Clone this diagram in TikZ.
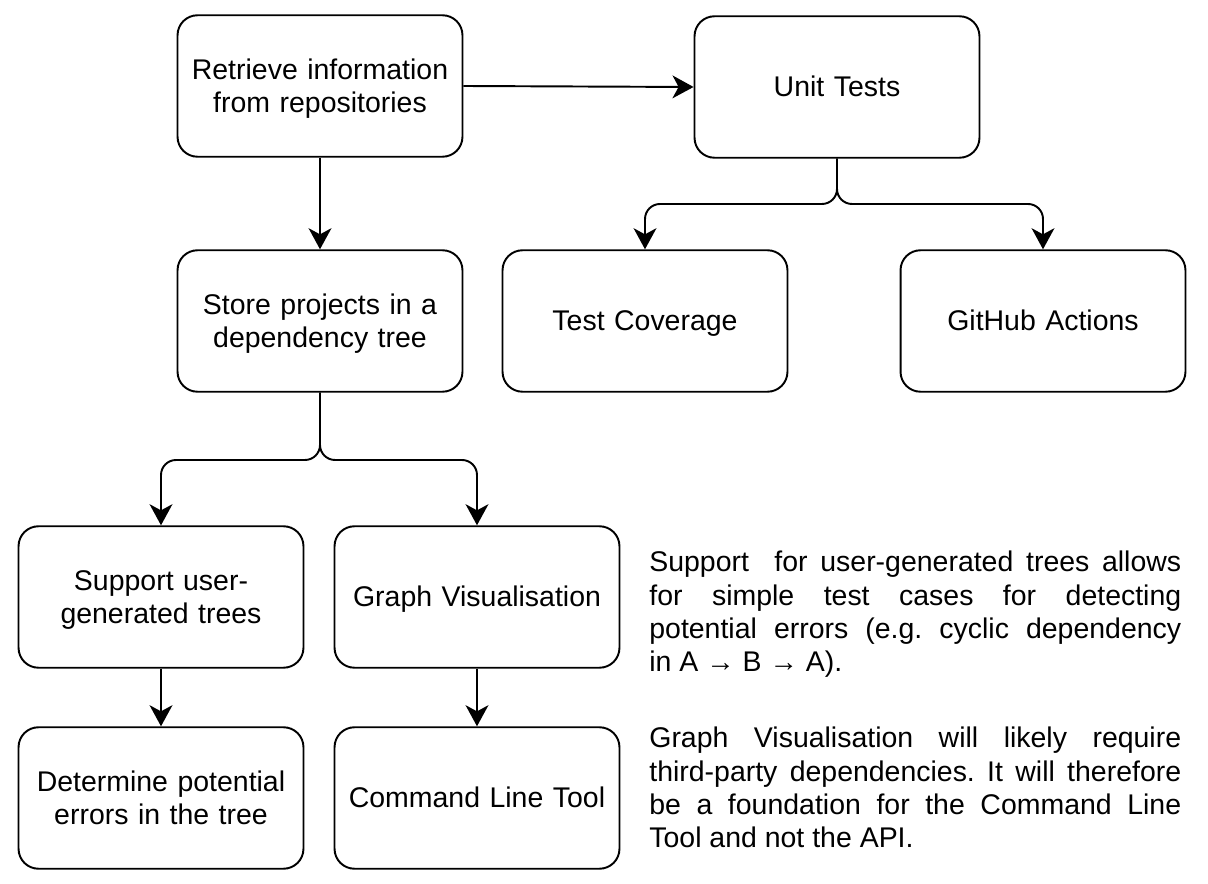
\documentclass[tikz,border=0pt]{standalone}
\usepackage{fontspec}
\setmainfont{Liberation Sans}
\frenchspacing
\usetikzlibrary{arrows.meta}

\begin{document}
\begin{tikzpicture}[x=0.02cm,y=-0.02cm,
  box/.style={draw, line width=1.1pt, rounded corners=0.4cm, minimum width=5.70cm, minimum height=2.83cm, text width=5.5cm, align=center, inner sep=0pt, font=\fontsize{16.2}{18.8}\selectfont,
    execute at begin node={\rule{0pt}{0.9em}}, execute at end node={\rule[-0.2em]{0pt}{0.2em}}},
  link/.style={line width=1.1pt, -{Stealth[length=12pt,width=13pt,inset=3.5pt]}, rounded corners=0.3cm},
  note/.style={anchor=north west, inner sep=0pt, text width=10.64cm, align=justify, font=\fontsize{16.2}{18.9}\selectfont}]
\useasboundingbox (0,0) rectangle (1208,884);

\node[box] (ret) at (320,86) {Retrieve information\\from repositories};
\node[box] (ut) at (837,87) {Unit Tests};
\node[box] (store) at (320,321) {Store projects in a\\dependency tree};
\node[box] (tc) at (645,321) {Test Coverage};
\node[box] (gh) at (1043,321) {GitHub Actions};
\node[box] (sup) at (161,597) {Support user-\\generated trees};
\node[box] (gv) at (477,597) {Graph Visualisation};
\node[box] (det) at (161,798) {Determine potential\\errors in the tree};
\node[box] (cli) at (477,798) {Command Line Tool};

\coordinate (usplit) at (837,204);
\coordinate (ssplit) at (320,460);

\draw[link] (ret.east) -- (ut.west);
\draw[link] (ret.south) -- (store.north);
\draw[link] (ut.south) -- (usplit) -| (tc.north);
\draw[link] (ut.south) -- (usplit) -| (gh.north);
\draw[link] (store.south) -- (ssplit) -| (sup.north);
\draw[link] (store.south) -- (ssplit) -| (gv.north);
\foreach \a/\b in {sup/det, gv/cli}
  \draw[link] (\a.south) -- (\b.north);

% notes on the right
\node[note] (n1) at (649,551) {Support~ for user-generated trees allows\linebreak for simple test cases for detecting\linebreak potential errors (e.g. cyclic dependency\linebreak in A → B → A).};
\node[note] (n2) at (649,727) {Graph Visualisation will likely require\linebreak third-party dependencies. It will therefore\linebreak be a foundation for the Command Line\linebreak Tool and not the API.};

\end{tikzpicture}
\end{document}
